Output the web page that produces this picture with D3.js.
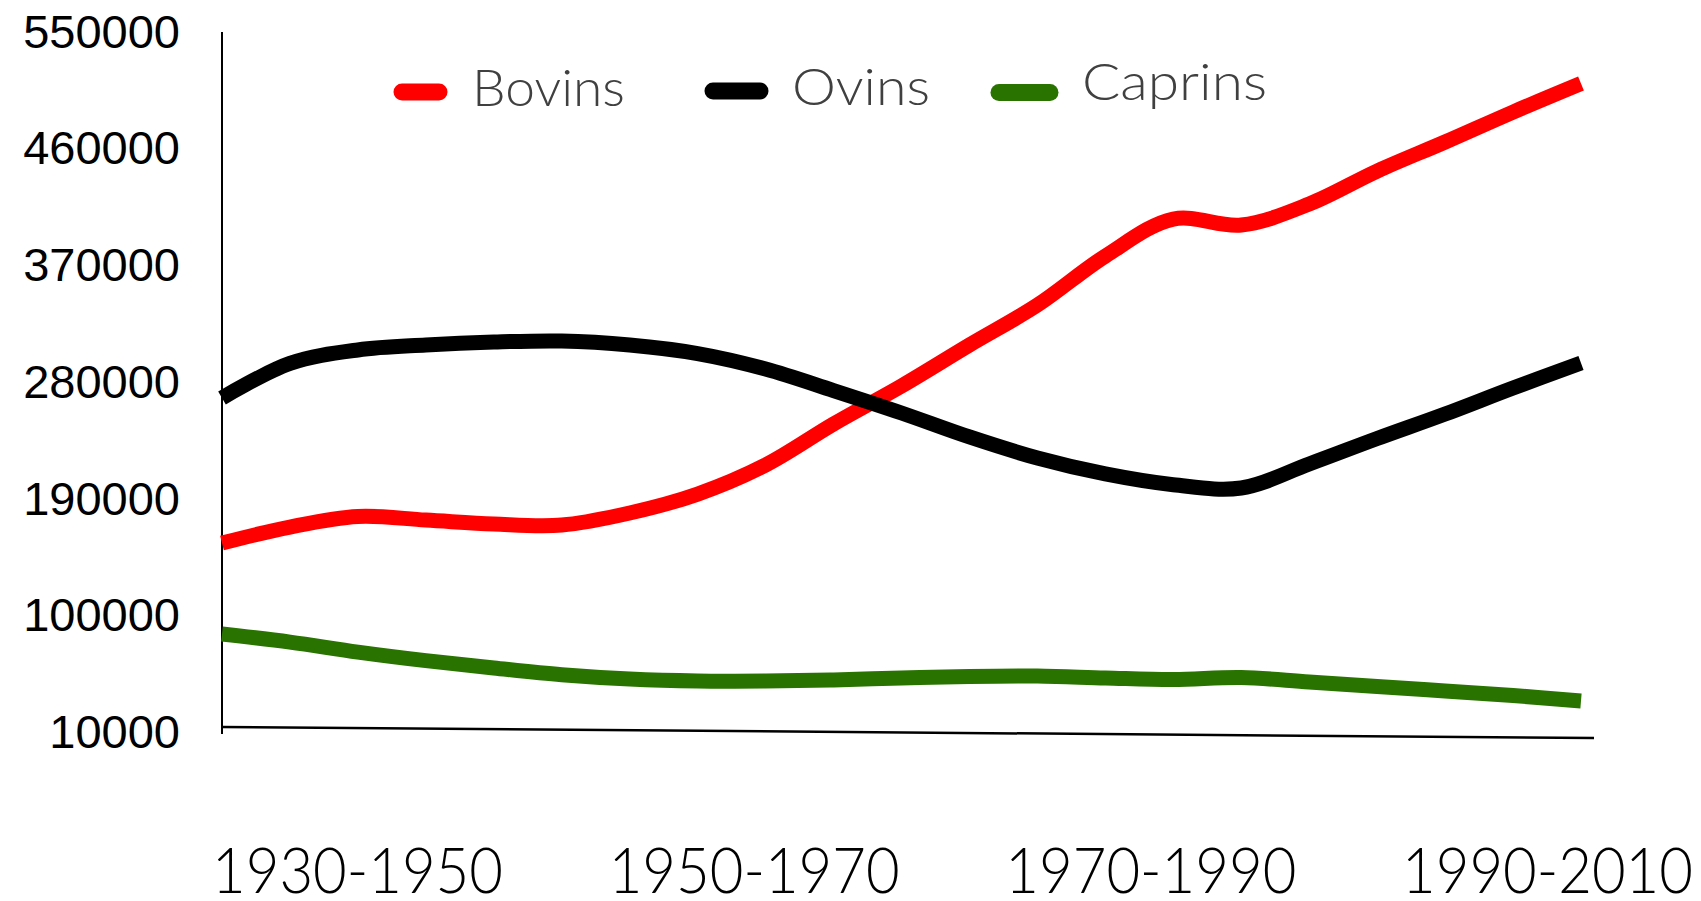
<!DOCTYPE html>
<html>
<head>
<meta charset="utf-8">
<script src="https://cdn.jsdelivr.net/npm/d3@7"></script>
<style>
    body { margin: 0; background: #fff; }
    svg { display: block; }
    .ylab text { font-family: "Liberation Sans", Arial, sans-serif; font-size: 47px; fill: #000; }
    .xlab text { font-family: Lato, "Open Sans", sans-serif; font-weight: 300; font-size: 63px; fill: #000; }
    .legend text { font-family: Lato, "Open Sans", sans-serif; font-weight: 300; font-size: 52px; fill: #404040; }
</style>
</head>
<body>
<div id="container"></div>
<script>
const periods = ['1930-1950', '1950-1970', '1970-1990', '1990-2010'];
const years = [1930, 1934, 1938, 1942, 1946, 1950, 1954, 1958, 1962, 1966, 1970,
    1974, 1978, 1982, 1986, 1990, 1994, 1998, 2002, 2006, 2010];
const bovins = [156000, 168400, 176500, 173800, 170700, 169900, 179200, 193800, 216200, 247800, 277100,
    308700, 339500, 377300, 405800, 401200, 417400, 442800, 465200, 488300, 510300];
const ovins = [267900, 294500, 304900, 308700, 311000, 311800, 308700, 302100, 290200, 273600, 256300,
    237800, 221600, 209300, 201000, 198500, 217000, 236600, 255500, 275600, 294800];
const caprins = [85900, 79700, 72000, 65400, 59700, 54500, 51200, 49700, 49700, 50500, 52000,
    53200, 53500, 52000, 50800, 52400, 48900, 45500, 42000, 38500, 34300];
const yTicks = [10000, 100000, 190000, 280000, 370000, 460000, 550000];

const series = [
    { name: 'Bovins', values: bovins, color: '#ff0000' },
    { name: 'Ovins', values: ovins, color: '#000000' },
    { name: 'Caprins', values: caprins, color: '#297300' }
];

const width = 1701;
const height = 901;

const svg = d3.select('#container').append('svg')
    .attr('width', width)
    .attr('height', height);

const xScale = d3.scaleLinear()
    .domain([years[0], years[years.length - 1]])
    .range([222, 1581]);

const yScale = d3.scaleLinear()
    .domain([10000, 550000])
    .range([732.5, 32]);

const periodScale = d3.scalePoint()
    .domain(periods)
    .range([357, 1547]);

// y axis
svg.append('line')
    .attr('x1', 222).attr('x2', 222)
    .attr('y1', 32).attr('y2', 734)
    .attr('stroke', '#000')
    .attr('stroke-width', 2);

svg.append('g')
    .attr('class', 'ylab')
    .attr('transform', 'translate(222, 0)')
    .call(d3.axisLeft(yScale).tickValues(yTicks).tickSize(0).tickPadding(42).tickFormat(d3.format('d')))
    .call(g => g.select('.domain').remove())
    .selectAll('text')
    .attr('font-family', null)
    .attr('font-size', null);

// x axis, slightly tilted as in the original
svg.append('line')
    .attr('x1', 222).attr('y1', 727)
    .attr('x2', 1594).attr('y2', 738)
    .attr('stroke', '#000')
    .attr('stroke-width', 2.5);

svg.append('g')
    .attr('class', 'xlab')
    .attr('transform', 'translate(0, 848)')
    .call(d3.axisBottom(periodScale).tickSize(0).tickPadding(0))
    .call(g => g.select('.domain').remove())
    .selectAll('text')
    .attr('font-family', null)
    .attr('font-size', null)
    .attr('x', -145.5)
    .attr('text-anchor', 'start')
    .attr('textLength', 291)
    .attr('lengthAdjust', 'spacingAndGlyphs');

const line = d3.line()
    .x((d, i) => xScale(years[i]))
    .y(d => yScale(d))
    .curve(d3.curveCatmullRom.alpha(0.5));

svg.append('g')
    .selectAll('path')
    .data(series)
    .enter()
    .append('path')
    .attr('d', s => line(s.values))
    .attr('fill', 'none')
    .attr('stroke', s => s.color)
    .attr('stroke-width', 15)
    .attr('stroke-linecap', 'butt')
    .attr('stroke-linejoin', 'round');

// legend
const legendPos = [
    { x1: 402, x2: 439, y: 92, tx: 472, ty: 106, tw: 153 },
    { x1: 713, x2: 760, y: 91, tx: 792, ty: 105, tw: 138 },
    { x1: 999, x2: 1050, y: 92.5, tx: 1082, ty: 100, tw: 185 }
];

const legend = svg.append('g').attr('class', 'legend');

const items = legend.selectAll('g')
    .data(series)
    .enter()
    .append('g');

items.append('line')
    .attr('x1', (s, i) => legendPos[i].x1)
    .attr('x2', (s, i) => legendPos[i].x2)
    .attr('y1', (s, i) => legendPos[i].y)
    .attr('y2', (s, i) => legendPos[i].y)
    .attr('stroke', s => s.color)
    .attr('stroke-width', 17)
    .attr('stroke-linecap', 'round');

items.append('text')
    .attr('x', (s, i) => legendPos[i].tx)
    .attr('y', (s, i) => legendPos[i].ty)
    .attr('textLength', (s, i) => legendPos[i].tw)
    .attr('lengthAdjust', 'spacingAndGlyphs')
    .text(s => s.name);
</script>
</body>
</html>
